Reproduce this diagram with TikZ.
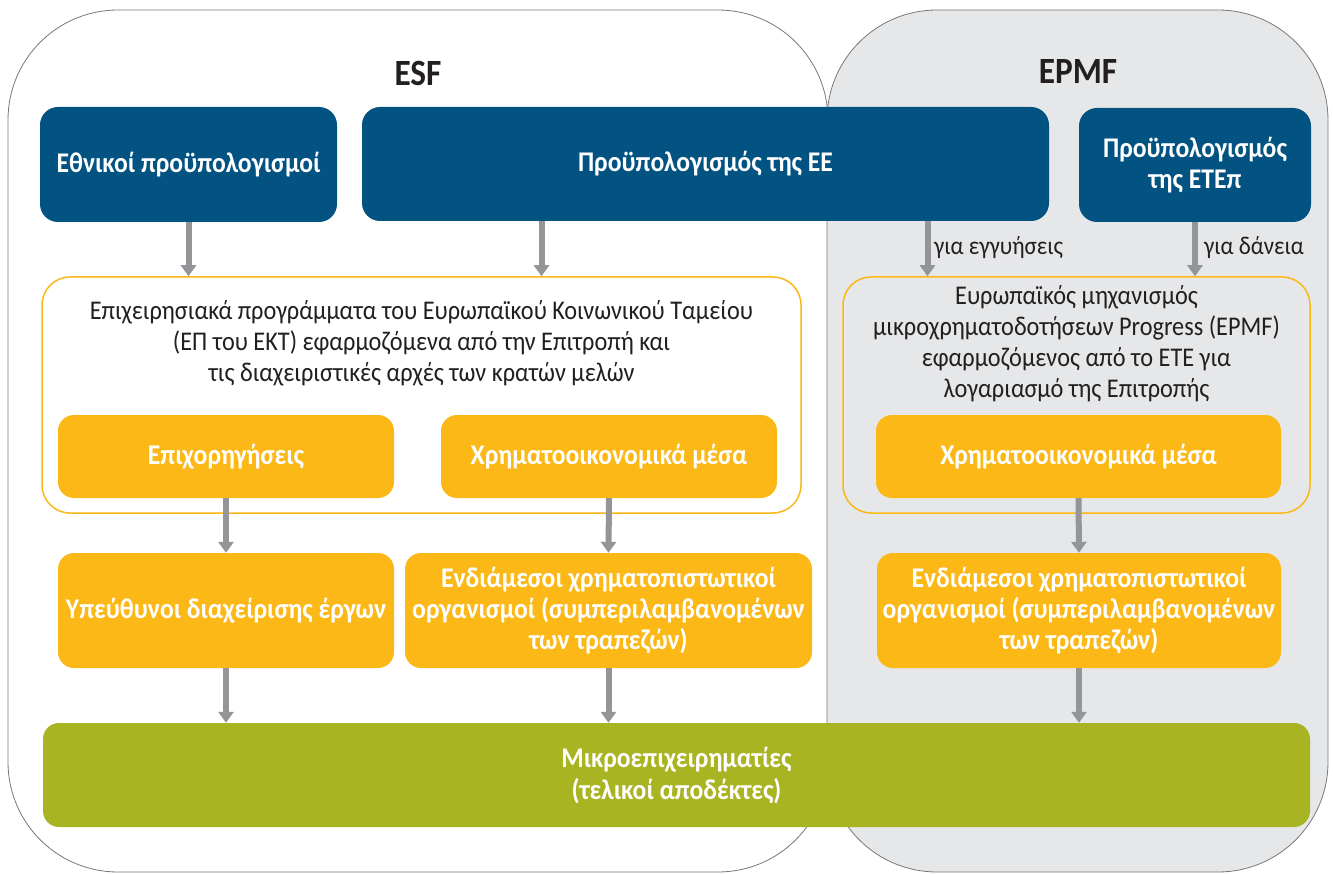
\documentclass[tikz,border=0pt]{standalone}
\usepackage{fontspec}
\setmainfont{Carlito}[FakeStretch=0.9]
\usetikzlibrary{arrows.meta}
\definecolor{budgetblue}{RGB}{2,82,130}
\definecolor{fundorange}{RGB}{251,184,23}
\definecolor{microgreen}{RGB}{168,180,34}
\definecolor{flowgray}{RGB}{147,149,152}
\definecolor{panelgray}{RGB}{230,231,232}
\definecolor{framegray}{RGB}{120,120,120}
\definecolor{textdark}{RGB}{35,31,32}

\begin{document}
\begin{tikzpicture}[x=1pt,y=-1pt,
  panel/.style={draw=framegray, line width=0.8pt, rounded corners=110pt},
  title/.style={font=\bfseries\fontsize{37}{37}\selectfont, text=textdark},
  budget/.style={fill=budgetblue, rounded corners=18pt, text=white, align=center, inner sep=0pt,
    font=\bfseries\fontsize{28.5}{31}\selectfont},
  scheme/.style={draw=fundorange, line width=1.5pt, rounded corners=28pt, inner sep=0pt},
  scheme text/.style={text=textdark, align=center, font=\fontsize{27}{31}\selectfont},
  fund/.style={fill=fundorange, rounded corners=16pt, text=white, align=center, inner sep=0pt,
    font=\bfseries\fontsize{28.5}{31}\selectfont},
  final/.style={fill=microgreen, rounded corners=16pt, text=white, align=center, inner sep=0pt,
    font=\bfseries\fontsize{28.5}{32}\selectfont},
  flow/.style={draw=flowgray, line width=6pt, -{Triangle[width=15pt,length=11pt]}},
  flow label/.style={text=textdark, anchor=west, inner sep=0pt, font=\fontsize{25.5}{28}\selectfont}]
\useasboundingbox (0,0) rectangle (1333,874);

\draw[panel, fill=white] (8,10) rectangle (828,872);
\draw[panel, fill=panelgray] (827,10) rectangle (1328,872);
\node[title] (esf) at (418,73) {ESF};
\node[title] (epmf) at (1078,72) {EPMF};

\node[budget, minimum width=297pt, minimum height=115pt] (natl) at (188.5,164.5) {Εθνικοί προϋπολογισμοί};
\node[budget, minimum width=687pt, minimum height=114pt] (eubud) at (705.5,164) {Προϋπολογισμός της ΕΕ};
\node[budget, minimum width=232pt, minimum height=114pt] (eibbud) at (1195,165) {Προϋπολογισμός\\της ΕΤΕπ};

\node[scheme, minimum width=759pt, minimum height=236pt] (opesf) at (421.5,395) {};
\node[scheme text] (opesftext) at (421.5,343) {Επιχειρησιακά προγράμματα του Ευρωπαϊκού Κοινωνικού Ταμείου\\(ΕΠ του ΕΚΤ) εφαρμοζόμενα από την Επιτροπή και\\τις διαχειριστικές αρχές των κρατών μελών};
\node[scheme, minimum width=467pt, minimum height=236pt] (opepmf) at (1076.5,395) {};
\node[scheme text] (opepmftext) at (1076.5,344) {Ευρωπαϊκός μηχανισμός\\μικροχρηματοδοτήσεων Progress (EPMF)\\εφαρμοζόμενος από το ΕΤΕ για\\λογαριασμό της Επιτροπής};

\node[fund, minimum width=336pt, minimum height=83pt] (grants) at (226,456.5) {Επιχορηγήσεις};
\node[fund, minimum width=336pt, minimum height=83pt] (finl) at (609,456.5) {Χρηματοοικονομικά μέσα};
\node[fund, minimum width=405pt, minimum height=83pt] (finr) at (1078.5,456.5) {Χρηματοοικονομικά μέσα};

\node[fund, minimum width=336pt, minimum height=115pt] (mgr) at (226,610.5) {Υπεύθυνοι διαχείρισης έργων};
\node[fund, minimum width=407pt, minimum height=115pt] (interl) at (608.5,610.5) {Ενδιάμεσοι χρηματοπιστωτικοί\\οργανισμοί (συμπεριλαμβανομένων\\των τραπεζών)};
\node[fund, minimum width=404pt, minimum height=115pt] (interr) at (1079,610.5) {Ενδιάμεσοι χρηματοπιστωτικοί\\οργανισμοί (συμπεριλαμβανομένων\\των τραπεζών)};

\node[final, minimum width=1267pt, minimum height=104pt] (micro) at (676.5,775) {Μικροεπιχειρηματίες\\(τελικοί αποδέκτες)};

\draw[flow] (natl.south) -- (natl.south |- opesf.north);
\draw[flow] ([xshift=-164pt]eubud.south) -- ([xshift=-164pt]eubud.south |- opesf.north);
\draw[flow] ([xshift=222pt]eubud.south) -- ([xshift=222pt]eubud.south |- opepmf.north);
\draw[flow] (eibbud.south) -- (eibbud.south |- opepmf.north);
\node[flow label] (guar) at (934,248) {για εγγυήσεις};
\node[flow label] (loans) at (1204,248) {για δάνεια};

\draw[flow] (grants.south) -- (mgr.north);
\draw[flow] (finl.south) -- (interl.north);
\draw[flow] (finr.south) -- (interr.north);
\draw[flow] (mgr.south) -- (mgr.south |- micro.north);
\draw[flow] (interl.south) -- (interl.south |- micro.north);
\draw[flow] (interr.south) -- (interr.south |- micro.north);
\end{tikzpicture}
\end{document}
